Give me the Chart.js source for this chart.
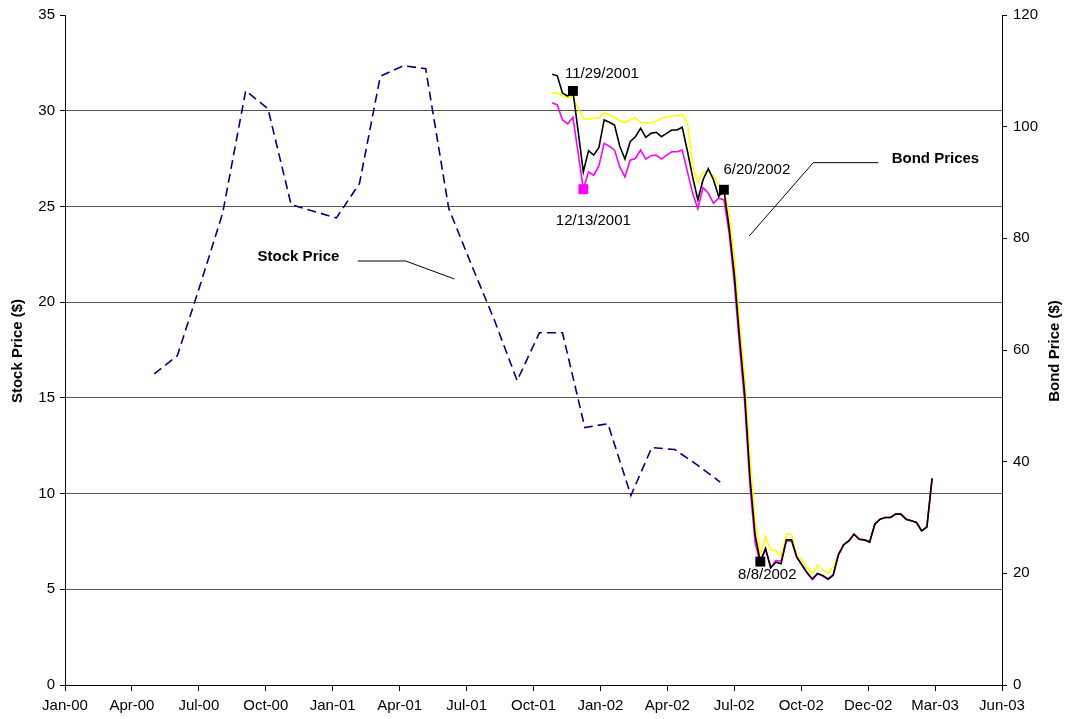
<!DOCTYPE html>
<html>
<head>
<meta charset="utf-8">
<title>Stock and Bond Prices</title>
<script src="https://cdn.jsdelivr.net/npm/chart.js@4.4.1/dist/chart.umd.min.js"></script>
<style>
  html, body { margin: 0; padding: 0; background: #fff; }
  #wrap { width: 1066px; height: 719px; }
</style>
</head>
<body>
<div id="wrap"><canvas id="priceChart" width="1066" height="719"></canvas></div>
<script>
// x axis: days after 1 Jan 2000, one tick every 90 days
const xTickLabels = ['Jan-00', 'Apr-00', 'Jul-00', 'Oct-00', 'Jan-01', 'Apr-01', 'Jul-01', 'Oct-01',
  'Jan-02', 'Apr-02', 'Jul-02', 'Oct-02', 'Dec-02', 'Mar-03', 'Jun-03'];
const xFirstTick = 15;
const xTickStep = 90;

// monthly stock price (left axis)
const stockDates = ['2000-05-15', '2000-06-15', '2000-07-15', '2000-08-15', '2000-09-15', '2000-10-15',
  '2000-11-15', '2000-12-15', '2001-01-15', '2001-02-15', '2001-03-15', '2001-04-15', '2001-05-15',
  '2001-06-15', '2001-07-15', '2001-08-15', '2001-09-15', '2001-10-15', '2001-11-15', '2001-12-15',
  '2002-01-15', '2002-02-15', '2002-03-15', '2002-04-15', '2002-05-15', '2002-06-15'];
const stockPrices = [16.25, 17.2, 20.8, 24.65, 31.05, 30.1, 25.1, 24.75, 24.4, 26.2, 31.8, 32.35, 32.2,
  24.9, 22.0, 19.1, 15.9, 18.4, 18.4, 13.45, 13.65, 9.9, 12.4, 12.3, 11.5, 10.6];

// weekly bond prices (right axis)
const bondDates = ['2001-11-01', '2001-11-08', '2001-11-15', '2001-11-22', '2001-11-29', '2001-12-06',
  '2001-12-13', '2001-12-20', '2001-12-27', '2002-01-03', '2002-01-10', '2002-01-17', '2002-01-24',
  '2002-01-31', '2002-02-07', '2002-02-14', '2002-02-21', '2002-02-28', '2002-03-07', '2002-03-14',
  '2002-03-21', '2002-03-28', '2002-04-04', '2002-04-11', '2002-04-18', '2002-04-25', '2002-05-02',
  '2002-05-09', '2002-05-16', '2002-05-23', '2002-05-30', '2002-06-06', '2002-06-13', '2002-06-20',
  '2002-06-27', '2002-07-04', '2002-07-11', '2002-07-18', '2002-07-25', '2002-08-01', '2002-08-08',
  '2002-08-15', '2002-08-22', '2002-08-29', '2002-09-05', '2002-09-12', '2002-09-19', '2002-09-26',
  '2002-10-03', '2002-10-10', '2002-10-17', '2002-10-24', '2002-10-31', '2002-11-07', '2002-11-14',
  '2002-11-21', '2002-11-28', '2002-12-05', '2002-12-12', '2002-12-19', '2002-12-26', '2003-01-02',
  '2003-01-09', '2003-01-16', '2003-01-23', '2003-01-30', '2003-02-06', '2003-02-13', '2003-02-20',
  '2003-02-27', '2003-03-06', '2003-03-13', '2003-03-20', '2003-03-27'];
const bondBlack = [109.4, 109.1, 106.0, 105.5, 106.4, 99.2, 91.9, 95.7, 94.9, 96.3,
  101.2, 100.8, 100.3, 96.5, 94.2, 97.3, 98.2, 99.7, 98.1, 98.8,
  99.0, 98.2, 98.8, 99.4, 99.4, 99.9, 95.6, 91.0, 86.9, 90.5,
  92.5, 90.5, 87.5, 88.7, 82.0, 73.6, 62.3, 52.1, 37.3, 26.9,
  22.1, 24.5, 21.0, 22.0, 21.7, 26.0, 26.0, 22.9, 21.5, 20.1,
  19.0, 20.0, 19.6, 19.0, 19.7, 23.3, 25.1, 25.8, 27.0, 26.1,
  26.0, 25.6, 28.8, 29.7, 30.0, 30.0, 30.6, 30.6, 29.7, 29.4,
  29.1, 27.6, 28.3, 37.0];
const bondYellow = [106.0, 106.0, 105.5, 105.3, 105.3, 103.3, 101.5, 101.3, 101.5, 101.5,
  102.5, 102.1, 101.7, 101.0, 100.7, 101.2, 101.6, 100.7, 100.7, 100.7,
  101.0, 101.5, 101.7, 101.9, 102.0, 102.1, 100.7, 93.1, 89.9, 91.9,
  91.9, 91.2, 89.7, 88.8, 84.5, 76.5, 65.0, 55.0, 41.0, 29.5,
  23.5, 26.6, 24.1, 24.1, 23.1, 27.0, 27.0, 23.3, 22.4, 20.9,
  19.9, 21.5, 20.6, 20.0, 21.2, 23.3, 25.1, 25.8, 27.0, 26.1,
  26.0, 25.6, 28.8, 29.7, 30.0, 30.0, 30.6, 30.6, 29.7, 29.4,
  29.1, 27.6, 28.3, 37.0];
const bondMagenta = [104.3, 103.9, 101.2, 100.5, 101.7, 95.3, 88.8, 91.9, 91.3, 93.0,
  97.0, 96.5, 95.8, 92.8, 91.0, 94.0, 94.3, 95.8, 94.2, 94.8,
  94.9, 94.2, 94.9, 95.5, 95.5, 95.8, 91.9, 88.1, 85.3, 89.1,
  88.1, 86.3, 87.2, 86.9, 81.0, 72.0, 60.8, 50.5, 35.8, 25.5,
  21.8, 24.3, 21.0, 22.3, 22.2, 25.8, 25.8, 22.9, 21.5, 20.0,
  18.9, 19.9, 19.5, 18.9, 19.6, 23.3, 25.1, 25.8, 27.0, 26.1,
  26.0, 25.6, 28.8, 29.7, 30.0, 30.0, 30.6, 30.6, 29.7, 29.4,
  29.1, 27.6, 28.3, 37.0];

// dates picked out with a square and a date label
const markedBlack = ['2001-11-29', '2002-06-20', '2002-08-08'];
const markedMagenta = ['2001-12-13'];

const FONT = '"Liberation Sans", Arial, sans-serif';

function dayNum(s) {
  const p = s.split('-').map(Number);
  return (Date.UTC(p[0], p[1] - 1, p[2]) - Date.UTC(2000, 0, 1)) / 86400000;
}

function toPoints(dates, values) {
  return dates.map((d, i) => ({ x: dayNum(d), y: values[i] }));
}

function pickPoints(marked, values) {
  return marked.map(d => ({ x: dayNum(d), y: values[bondDates.indexOf(d)], date: d }));
}

function usDate(s) {
  const p = s.split('-').map(Number);
  return p[1] + '/' + p[2] + '/' + p[0];
}

// label offset from its square, in pixels
const labelOffsets = {
  '2001-11-29': [29, -17],
  '2001-12-13': [10, 32],
  '2002-06-20': [33, -20],
  '2002-08-08': [7, 13]
};

// callouts, in data units (x: days, y: on the named axis)
const callouts = [
  { text: 'Stock Price', axis: 'yStock', at: [274, 22.34], line: [[408.6, 22.15], [473.1, 22.15], [538.5, 21.21]] },
  { text: 'Bond Prices', axis: 'yBond', at: [1126.6, 94.2], line: [[1108.6, 93.55], [1021.2, 93.55], [935.1, 80.42]] }
];

const notesPlugin = {
  id: 'notes',
  afterDatasetsDraw(chart) {
    const ctx = chart.ctx;
    const xs = chart.scales.x;
    const area = chart.chartArea;
    ctx.save();
    ctx.fillStyle = '#000';
    ctx.strokeStyle = '#000';
    ctx.lineWidth = 1;

    // date labels next to the squares
    ctx.font = '15px ' + FONT;
    ctx.textAlign = 'center';
    ctx.textBaseline = 'middle';
    [0, 1].forEach(di => {
      const ds = chart.data.datasets[di];
      const meta = chart.getDatasetMeta(di);
      ds.data.forEach((pt, i) => {
        const el = meta.data[i];
        const off = labelOffsets[pt.date] || [0, -15];
        ctx.fillText(usDate(pt.date), el.x + off[0], el.y + off[1]);
      });
    });

    // callouts with leader lines
    ctx.font = 'bold 15px ' + FONT;
    ctx.textAlign = 'left';
    callouts.forEach(c => {
      const ys = chart.scales[c.axis];
      ctx.fillText(c.text, xs.getPixelForValue(c.at[0]), ys.getPixelForValue(c.at[1]));
      ctx.beginPath();
      c.line.forEach((p, i) => {
        const px = xs.getPixelForValue(p[0]);
        const py = ys.getPixelForValue(p[1]);
        if (i === 0) ctx.moveTo(px, py); else ctx.lineTo(px, py);
      });
      ctx.stroke();
    });

    // axis titles, both read bottom to top
    ctx.font = 'bold 15px ' + FONT;
    ctx.textAlign = 'center';
    const midY = (area.top + area.bottom) / 2 + 1;
    ctx.save();
    ctx.translate(area.left - 47, midY);
    ctx.rotate(-Math.PI / 2);
    ctx.fillText('Stock Price ($)', 0, 0);
    ctx.restore();
    ctx.save();
    ctx.translate(area.right + 53, midY);
    ctx.rotate(-Math.PI / 2);
    ctx.fillText('Bond Price ($)', 0, 0);
    ctx.restore();

    ctx.restore();
  }
};

const tickFont = { family: FONT, size: 15 };

const chart = new Chart(document.getElementById('priceChart').getContext('2d'), {
  type: 'line',
  data: {
    datasets: [
      {
        label: 'marked black',
        data: pickPoints(markedBlack, bondBlack),
        yAxisID: 'yBond',
        showLine: false,
        pointStyle: 'rect',
        pointRadius: 7,
        pointBackgroundColor: '#000',
        pointBorderColor: '#000',
        pointBorderWidth: 0
      },
      {
        label: 'marked magenta',
        data: pickPoints(markedMagenta, bondMagenta),
        yAxisID: 'yBond',
        showLine: false,
        pointStyle: 'rect',
        pointRadius: 7,
        pointBackgroundColor: '#ff00ff',
        pointBorderColor: '#ff00ff',
        pointBorderWidth: 0
      },
      {
        label: 'Bond (black)',
        data: toPoints(bondDates, bondBlack),
        yAxisID: 'yBond',
        borderColor: '#000',
        borderWidth: 1.6,
        pointRadius: 0
      },
      {
        label: 'Bond (magenta)',
        data: toPoints(bondDates, bondMagenta),
        yAxisID: 'yBond',
        borderColor: '#ff00ff',
        borderWidth: 1.6,
        pointRadius: 0
      },
      {
        label: 'Bond (yellow)',
        data: toPoints(bondDates, bondYellow),
        yAxisID: 'yBond',
        borderColor: '#ffff00',
        borderWidth: 1.6,
        pointRadius: 0
      },
      {
        label: 'Stock Price',
        data: toPoints(stockDates, stockPrices),
        yAxisID: 'yStock',
        borderColor: '#000080',
        borderWidth: 1.6,
        borderDash: [9, 5],
        pointRadius: 0
      }
    ]
  },
  options: {
    responsive: false,
    animation: false,
    events: [],
    layout: { padding: { top: 15, left: 0, right: 0, bottom: 0 } },
    plugins: { legend: { display: false }, tooltip: { enabled: false } },
    scales: {
      x: {
        type: 'linear',
        min: xFirstTick,
        max: xFirstTick + xTickStep * (xTickLabels.length - 1),
        afterBuildTicks: scale => {
          scale.ticks = xTickLabels.map((_, i) => ({ value: xFirstTick + i * xTickStep }));
        },
        afterFit: scale => { scale.height = 34; },
        ticks: {
          autoSkip: false,
          maxRotation: 0,
          padding: 6,
          color: '#000',
          font: tickFont,
          callback: (v, i) => xTickLabels[i]
        },
        grid: { drawOnChartArea: false, drawTicks: true, tickLength: 6, color: '#000' },
        border: { display: true, color: '#000', width: 1 }
      },
      yStock: {
        type: 'linear',
        position: 'left',
        min: 0,
        max: 35,
        afterFit: scale => { scale.width = 65; },
        ticks: { stepSize: 5, padding: 5, color: '#000', font: tickFont },
        grid: {
          color: c => (c.tick && (c.tick.value === 0 || c.tick.value === 35)) ? 'rgba(0,0,0,0)' : '#555',
          tickColor: '#000',
          tickLength: 5,
          lineWidth: 1
        },
        border: { display: true, color: '#000', width: 1 }
      },
      yBond: {
        type: 'linear',
        position: 'right',
        min: 0,
        max: 120,
        afterFit: scale => { scale.width = 64; },
        ticks: { stepSize: 20, padding: 6, color: '#000', font: tickFont },
        grid: { drawOnChartArea: false, tickLength: 5, color: '#000' },
        border: { display: true, color: '#000', width: 1 }
      }
    }
  },
  plugins: [notesPlugin]
});
</script>
</body>
</html>
